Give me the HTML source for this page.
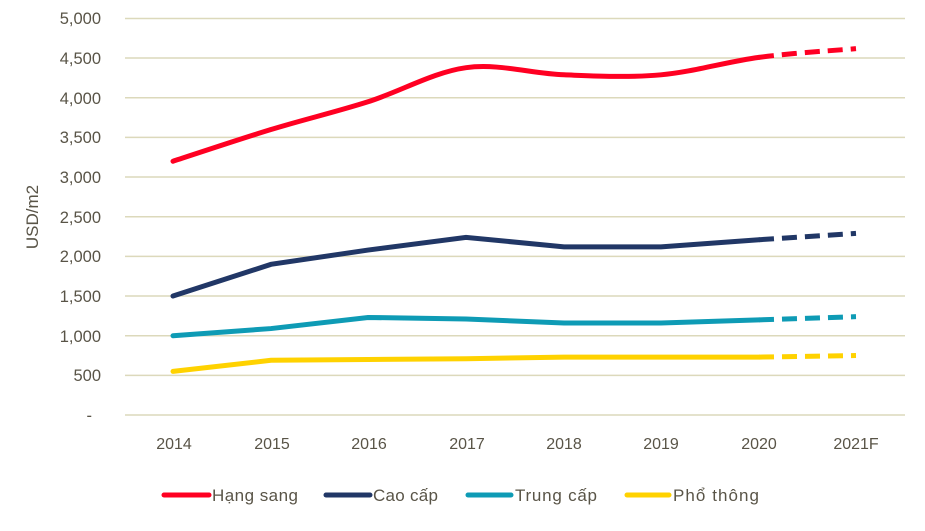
<!DOCTYPE html>
<html><head><meta charset="utf-8"><style>
body{margin:0;background:#fff;}
svg text{font-family:"Liberation Sans",sans-serif;fill:#595447;}
</style></head><body>
<svg id="s" width="925" height="526" xmlns="http://www.w3.org/2000/svg">
<g stroke="#dcd9bb" stroke-width="1.5">
<line x1="125" x2="905" y1="18.5" y2="18.5"/><line x1="125" x2="905" y1="58" y2="58"/>
<line x1="125" x2="905" y1="97.7" y2="97.7"/><line x1="125" x2="905" y1="137.4" y2="137.4"/>
<line x1="125" x2="905" y1="177" y2="177"/><line x1="125" x2="905" y1="216.7" y2="216.7"/>
<line x1="125" x2="905" y1="256.4" y2="256.4"/><line x1="125" x2="905" y1="296" y2="296"/>
<line x1="125" x2="905" y1="335.7" y2="335.7"/><line x1="125" x2="905" y1="375.4" y2="375.4"/>
<line x1="125" x2="905" y1="415" y2="415"/>
</g>
<g font-size="16.5" text-anchor="end">
<text x="101" y="24">5,000</text><text x="101" y="64">4,500</text><text x="101" y="104">4,000</text>
<text x="101" y="143">3,500</text><text x="101" y="183">3,000</text><text x="101" y="223">2,500</text>
<text x="101" y="262">2,000</text><text x="101" y="302">1,500</text><text x="101" y="342">1,000</text>
<text x="101" y="381">500</text><text x="92" y="421">-</text>
</g>
<text font-size="17" transform="translate(38,217) rotate(-90)" text-anchor="middle">USD/m2</text>
<g font-size="16" text-anchor="middle">
<text x="174" y="449">2014</text><text x="272" y="449">2015</text><text x="369" y="449">2016</text>
<text x="467" y="449">2017</text><text x="564" y="449">2018</text><text x="661" y="449">2019</text>
<text x="759" y="449">2020</text><text x="856" y="449">2021F</text>
</g>
<g id="lines" fill="none" stroke-width="5" stroke-linecap="round"></g>
<g stroke-width="5" stroke-linecap="round">
<line x1="164" x2="209" y1="495" y2="495" stroke="#ff0022"/>
<line x1="326" x2="370" y1="495" y2="495" stroke="#213766"/>
<line x1="468" x2="511" y1="495" y2="495" stroke="#0e9bb5"/>
<line x1="627" x2="669" y1="495" y2="495" stroke="#ffd200"/>
</g>
<g font-size="17">
<text x="212" y="501" textLength="86">Hạng sang</text><text x="373" y="501" textLength="65">Cao cấp</text>
<text x="515" y="501" textLength="82">Trung cấp</text><text x="673" y="501" textLength="86">Phổ thông</text>
</g>
</svg>
<script>
var X=[173,271,368,466,564,661,759,856];
function Y(v){return 415-v*0.0793;}
var S=[
["#ff0022",[3200,3600,3950,4380,4290,4290,4510,4620],1],
["#213766",[1500,1900,2080,2240,2120,2120,2210,2290],0],
["#0e9bb5",[1000,1090,1230,1210,1160,1160,1200,1240],0],
["#ffd200",[550,690,700,710,730,730,730,750],0]];
var g=document.getElementById("lines");
S.forEach(function(s){
 var p=X.map(function(x,i){return [x,Y(s[1][i])];});
 function seg(i){
  if(!s[2]) return "L"+p[i+1][0]+","+p[i+1][1];
  var a=p[Math.max(i-1,0)],b=p[i],c=p[i+1],d=p[Math.min(i+2,p.length-1)],t=1/3;
  return "C"+(b[0]+(c[0]-a[0])*t/2)+","+(b[1]+(c[1]-a[1])*t/2)+" "+(c[0]-(d[0]-b[0])*t/2)+","+(c[1]-(d[1]-b[1])*t/2)+" "+c[0]+","+c[1];
 }
 var d="M"+p[0][0]+","+p[0][1];
 for(var i=0;i<6;i++)d+=seg(i);
 var e="M"+p[6][0]+","+p[6][1]+seg(6);
 g.innerHTML+='<path d="'+d+'" stroke="'+s[0]+'"/><path d="'+e+'" stroke="'+s[0]+'" stroke-dasharray="15 8" stroke-linecap="butt"/>';
});
</script>
</body></html>
